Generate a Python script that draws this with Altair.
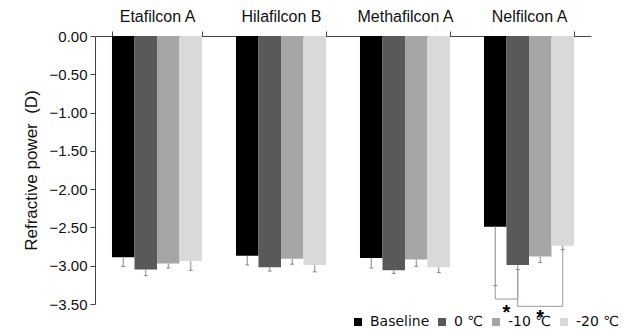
import altair as alt
import pandas as pd

categories = ["Etafilcon A", "Hilafilcon B", "Methafilcon A", "Nelfilcon A"]
series = ["Baseline", "0 ℃", "-10 ℃", "-20 ℃"]
colors = ["#000000", "#595959", "#a6a6a6", "#d9d9d9"]

baseline = [-2.89, -2.87, -2.90, -2.49]
c0 = [-3.05, -3.02, -3.06, -2.99]
c10 = [-2.97, -2.91, -2.92, -2.88]
c20 = [-2.94, -2.99, -3.02, -2.74]

err_baseline = [0.12, 0.12, 0.13, 0.77]
err_c0 = [0.08, 0.05, 0.04, 0.06]
err_c10 = [0.06, 0.07, 0.09, 0.08]
err_c20 = [0.12, 0.09, 0.07, 0.05]

# significance brackets (Nelfilcon A): series pair, bracket level
bracket_pairs = [("Baseline", "0 ℃"), ("0 ℃", "-20 ℃")]
bracket_levels = [-3.435, -3.53]
star_series = ["Baseline", "-10 ℃"]
star_levels = [-3.57, -3.63]

y_ticks = [0.0, -0.5, -1.0, -1.5, -2.0, -2.5, -3.0, -3.5]

vals = [baseline, c0, c10, c20]
errs = [err_baseline, err_c0, err_c10, err_c20]
rows = []
for s, v, e in zip(series, vals, errs):
    for c, vv, ee in zip(categories, v, e):
        rows.append({"cat": c, "ser": s, "val": vv, "lo": round(vv - ee, 3)})
df = pd.DataFrame(rows)

lookup = {(r["cat"], r["ser"]): r for r in rows}
brows = []
for bi, ((a, b), lvl) in enumerate(zip(bracket_pairs, bracket_levels)):
    ra = lookup[("Nelfilcon A", a)]
    rb = lookup[("Nelfilcon A", b)]
    pts = [(a, ra["lo"]), (a, lvl), (b, lvl), (b, rb["lo"])]
    for k, (s, y) in enumerate(pts):
        brows.append({"cat": "Nelfilcon A", "ser": s, "y": y, "k": k, "b": bi})
bdf = pd.DataFrame(brows)

sdf = pd.DataFrame({"cat": ["Nelfilcon A"] * 2, "ser": star_series, "y": star_levels})

axis_color = "#444444"

x_axis = alt.Axis(orient="top", title=None, labelAngle=0, tickBand="extent",
                  tickSize=5, labelPadding=7, labelFont="Liberation Sans",
                  labelFontSize=16, labelColor="#111111",
                  domainColor=axis_color, tickColor=axis_color)
y_axis = alt.Axis(values=y_ticks, format=".2f", title="Refractive power\u00a0 (D)",
                  titleFont="Liberation Sans", titleFontSize=17, titleFontWeight="normal",
                  titleColor="#111111", titlePadding=9,
                  labelFont="Liberation Sans", labelFontSize=15, labelColor="#111111",
                  labelOverlap=False, labelFlush=False,
                  tickSize=5, labelPadding=3, grid=False,
                  domainColor=axis_color, tickColor=axis_color)
x_scale = alt.Scale(paddingInner=0.274, paddingOuter=0.137)
xo_scale = alt.Scale(paddingInner=0, paddingOuter=0)
y_scale = alt.Scale(domain=[-3.5, 0], nice=False, zero=False)


def X():
    return alt.X("cat:N", sort=categories, scale=x_scale, axis=x_axis)


def XO():
    return alt.XOffset("ser:N", sort=series, scale=xo_scale)


def Y(field):
    return alt.Y(field, scale=y_scale, axis=y_axis)


bars = alt.Chart(df).mark_bar().encode(
    x=X(), xOffset=XO(), y=Y("val:Q"), y2=alt.datum(0),
    color=alt.Color("ser:N", sort=series, scale=alt.Scale(domain=series, range=colors),
                    legend=alt.Legend(title=None, orient="none", direction="horizontal",
                                      legendX=256, legendY=279, symbolType="square",
                                      symbolSize=64, symbolStrokeWidth=0, labelFont="DejaVu Sans",
                                      labelFontSize=14, labelColor="#111111", labelOffset=5,
                                      columnPadding=5, padding=0)),
)

err_rule = alt.Chart(df).mark_rule(color="#888888", strokeWidth=1).encode(
    x=X(), xOffset=XO(), y=Y("val:Q"), y2="lo:Q")

caps = alt.Chart(df).mark_point(shape="M-1,0H1", size=16, filled=False, color="#888888",
                                strokeWidth=1, opacity=1).encode(
    x=X(), xOffset=XO(), y=Y("lo:Q"))

brackets = alt.Chart(bdf).mark_line(color="#999999", strokeWidth=1).encode(
    x=X(), xOffset=XO(), y=Y("y:Q"), detail="b:N", order="k:Q")

star1 = alt.Chart(sdf.iloc[[0]]).mark_text(text="*", fontSize=20, fontWeight="bold",
                                           font="Liberation Sans", color="#000000",
                                           baseline="middle", dx=11.25, dy=4).encode(
    x=X(), xOffset=XO(), y=Y("y:Q"))
star2 = alt.Chart(sdf.iloc[[1]]).mark_text(text="*", fontSize=20, fontWeight="bold",
                                           font="Liberation Sans", color="#000000",
                                           baseline="middle", dx=0, dy=4).encode(
    x=X(), xOffset=XO(), y=Y("y:Q"))

chart = alt.layer(bars, err_rule, caps, brackets, star1, star2).properties(
    width=496, height=268,
    autosize=alt.AutoSizeParams(type="none"),
    padding={"left": 87, "top": 28, "right": 30, "bottom": 24},
    background="white",
).configure_view(stroke=None).configure_axis(labelOverlap=False)

chart.save("out.html", embed_options={"renderer": "svg", "actions": False})
